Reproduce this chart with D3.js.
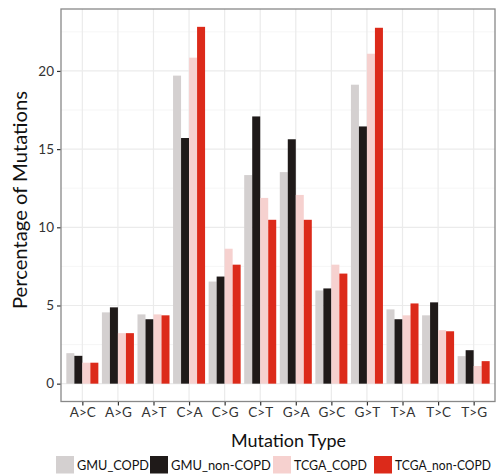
<!DOCTYPE html>
<html>
<head>
<meta charset="utf-8">
<script src="https://cdn.jsdelivr.net/npm/d3@7/dist/d3.min.js"></script>
<style>
  html, body { margin: 0; padding: 0; background: #fff; }
  svg { display: block; font-family: Lato, "Open Sans", sans-serif; }
</style>
</head>
<body>
<svg id="chart" width="496" height="475"></svg>
<script>
const categories = ["A>C","A>G","A>T","C>A","C>G","C>T","G>A","G>C","G>T","T>A","T>C","T>G"];
const seriesNames = ["GMU_COPD","GMU_non-COPD","TCGA_COPD","TCGA_non-COPD"];
const gmuCOPD     = [1.95, 4.56, 4.43, 19.70, 6.53, 13.34, 13.53, 5.96, 19.12, 4.75, 4.37, 1.76];
const gmuNonCOPD  = [1.78, 4.88, 4.12, 15.71, 6.85, 17.09, 15.63, 6.09, 16.45, 4.12, 5.20, 2.14];
const tcgaCOPD    = [1.34, 3.23, 4.43, 20.85, 8.63, 11.88, 12.07, 7.61, 21.10, 4.37, 3.42, 1.13];
const tcgaNonCOPD = [1.34, 3.23, 4.37, 22.82, 7.61, 10.48, 10.48, 7.04, 22.76, 5.13, 3.35, 1.44];
const yTicks = [0, 5, 10, 15, 20];
const colors = ["#d4d0d0", "#1f1a19", "#f6d1cf", "#dc2a1a"];

const seriesValues = [gmuCOPD, gmuNonCOPD, tcgaCOPD, tcgaNonCOPD];
const rows = categories.map((c, i) => {
  const r = { cat: c };
  seriesNames.forEach((s, j) => r[s] = seriesValues[j][i]);
  return r;
});

const svg = d3.select("#chart");
const panel = { left: 61, right: 495, top: 9, bottom: 401.5 };

const maxV = d3.max(seriesValues.flat());
const pad = maxV * 0.05;
const y = d3.scaleLinear().domain([-pad, maxV + pad]).range([panel.bottom, panel.top]);

// discrete expansion 0.6 units each side
const step = (panel.right - panel.left) / (categories.length - 1 + 1.2);
const xc = d3.scalePoint().domain(categories)
  .range([panel.left + 0.6 * step, panel.right - 0.6 * step]);
const groupW = step * 0.9;
const xs = d3.scaleBand().domain(seriesNames).range([0, groupW]).padding(0);

// minor gridlines
const minorY = [2.5, 7.5, 12.5, 17.5, 22.5];
svg.append("g").selectAll("line").data(minorY).join("line")
  .attr("x1", panel.left).attr("x2", panel.right)
  .attr("y1", d => y(d)).attr("y2", d => y(d))
  .attr("stroke", "#f4f4f4").attr("stroke-width", 0.8);
// major gridlines
svg.append("g").selectAll("line").data(yTicks).join("line")
  .attr("x1", panel.left).attr("x2", panel.right)
  .attr("y1", d => y(d)).attr("y2", d => y(d))
  .attr("stroke", "#ebebeb").attr("stroke-width", 1.2);
svg.append("g").selectAll("line").data(categories).join("line")
  .attr("x1", d => xc(d)).attr("x2", d => xc(d))
  .attr("y1", panel.top).attr("y2", panel.bottom)
  .attr("stroke", "#ebebeb").attr("stroke-width", 1.2);

// bars
const groups = svg.append("g").selectAll("g").data(rows).join("g")
  .attr("transform", d => `translate(${xc(d.cat) - groupW / 2},0)`);
groups.selectAll("rect").data(d => seriesNames.map((s, j) => ({ s, j, v: d[s] }))).join("rect")
  .attr("x", d => xs(d.s))
  .attr("width", xs.bandwidth())
  .attr("y", d => y(d.v))
  .attr("height", d => y(0) - y(d.v))
  .attr("fill", d => colors[d.j]);

// panel border
svg.append("rect")
  .attr("x", panel.left).attr("y", panel.top)
  .attr("width", panel.right - panel.left).attr("height", panel.bottom - panel.top)
  .attr("fill", "none").attr("stroke", "#888").attr("stroke-width", 1.3);

// axes
const yAxis = svg.append("g").attr("transform", `translate(${panel.left - 0.5},0)`)
  .call(d3.axisLeft(y).tickValues(yTicks).tickSize(3.5).tickPadding(3));
yAxis.select(".domain").remove();
yAxis.selectAll(".tick line").attr("stroke", "#333").attr("stroke-width", 1.2);
yAxis.selectAll(".tick text").attr("fill", "#333").style("font-size", "13.5px")
  .style("font-family", "Lato, sans-serif");

const xAxis = svg.append("g").attr("transform", `translate(0,${panel.bottom + 0.5})`)
  .call(d3.axisBottom(xc).tickSize(3.5).tickPadding(2));
xAxis.select(".domain").remove();
xAxis.selectAll(".tick line").attr("stroke", "#333").attr("stroke-width", 1.2);
xAxis.selectAll(".tick text").attr("fill", "#333").style("font-size", "13.5px")
  .style("font-family", "Lato, sans-serif");

// axis titles
svg.append("text")
  .attr("x", 288.5).attr("y", 447)
  .attr("text-anchor", "middle").attr("fill", "#111")
  .attr("textLength", 115).attr("lengthAdjust", "spacingAndGlyphs")
  .style("font-size", "18px").text("Mutation Type");
svg.append("text")
  .attr("transform", `translate(27,200) rotate(-90)`)
  .attr("text-anchor", "middle").attr("fill", "#111")
  .attr("textLength", 218).attr("lengthAdjust", "spacingAndGlyphs")
  .style("font-size", "19px").text("Percentage of Mutations");

// legend
const legendX = [56, 150, 273, 374];
const legendW = [72, 100, 73, 96];
const lg = svg.append("g").selectAll("g").data(seriesNames).join("g")
  .attr("transform", (d, i) => `translate(${legendX[i]},456)`);
lg.append("rect").attr("width", 18).attr("height", 17.5)
  .attr("fill", (d, i) => colors[i]);
lg.append("text")
  .attr("fill", "#111").style("font-size", "14px").text(d => d)
  .each(function(d, i) {
    const w = this.getComputedTextLength() || legendW[i];
    const k = legendW[i] / w;
    d3.select(this).attr("transform", `translate(21,14) scale(${k},1)`);
  });
</script>
</body>
</html>
